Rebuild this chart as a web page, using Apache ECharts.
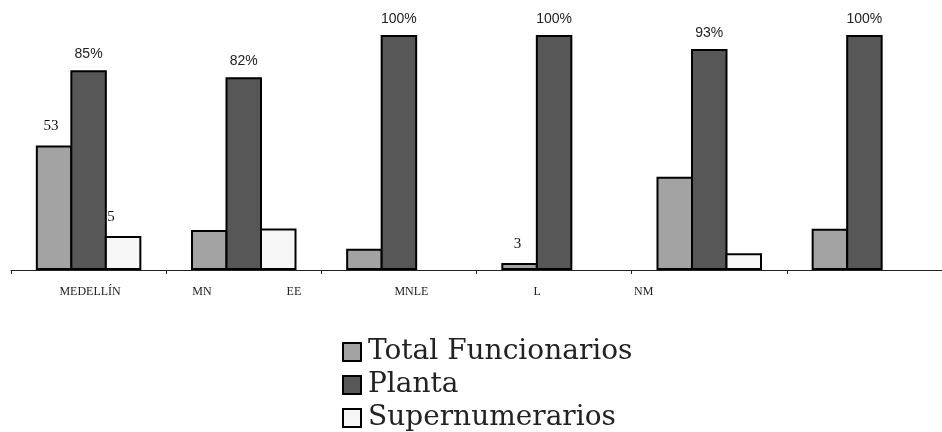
<!DOCTYPE html>
<html>
<head>
<meta charset="utf-8">
<script src="https://cdn.jsdelivr.net/npm/echarts@6/dist/echarts.min.js"></script>
<style>
  html, body { margin: 0; padding: 0; background: #fff; }
  #chart { width: 942px; height: 432px; }
</style>
</head>
<body>
<div id="chart"></div>
<script>
// ---- data ----
const categories = ['MEDELLÍN', 'MN EE', 'MNLE', 'L', 'NM', ''];
const seriesNames = ['Total Funcionarios', 'Planta', 'Supernumerarios'];
const totalFuncionarios = [53, 17, 9, 3, 39.7, 17.6];
const planta = [85, 82, 100, 100, 94, 100];
const supernumerarios = [14.5, 17.7, null, null, 7.1, null];
const totalLabels = ['53', '', '', '3', '', ''];
const plantaLabels = ['85%', '82%', '100%', '100%', '93%', '100%'];
const superLabels = ['5', '', '', '', '', ''];

// ---- styles ----
const serifLabel = { fontFamily: 'Liberation Serif', fontSize: 15, color: '#111', position: 'top', distance: 11.5 };
const sansLabel = { fontFamily: 'Liberation Sans', fontSize: 14, color: '#222', position: 'top', distance: 9 };
const labelOffsetX = { total: { 0: -3, 3: -2 }, super: { 0: -12 } };

function buildData(values, labels, style, offsets) {
  return values.map((v, i) => {
    if (v == null) return '-';
    const item = { value: v };
    if (labels[i]) {
      item.label = Object.assign({ show: true, formatter: labels[i], offset: [offsets[i] || 0, 0] }, style);
    }
    return item;
  });
}

const axisFont = { fontFamily: 'Liberation Serif', fontSize: 12, color: '#222' };
const axisRich = {
  c0: Object.assign({ padding: [0, 0, 0, 3] }, axisFont),
  c1a: Object.assign({ padding: [0, 0, 0, 6] }, axisFont),
  c1b: Object.assign({ padding: [0, 0, 0, 75] }, axisFont),
  c2: Object.assign({ padding: [0, 0, 0, 25] }, axisFont),
  c3: Object.assign({ padding: [0, 34, 0, 0] }, axisFont),
  c4: Object.assign({ padding: [0, 131, 0, 0] }, axisFont),
  c5: Object.assign({}, axisFont)
};

const barCommon = { type: 'bar', barGap: '-5.45%', barCategoryGap: '32%' };

const chart = echarts.init(document.getElementById('chart'), null, { renderer: 'canvas' });
chart.setOption({
  animation: false,
  backgroundColor: '#fff',
  grid: { left: 11, top: 35, width: 935, height: 235, containLabel: false },
  xAxis: {
    type: 'category',
    data: categories,
    axisLine: { lineStyle: { color: '#222', width: 1 } },
    axisTick: { show: true, length: 4, lineStyle: { color: '#222' } },
    axisLabel: {
      interval: 0,
      margin: 16,
      formatter: function (value, index) {
        if (!value) return '';
        const parts = value.split(' ');
        if (parts.length > 1) return '{c' + index + 'a|' + parts[0] + '}{c' + index + 'b|' + parts[1] + '}';
        return '{c' + index + '|' + value + '}';
      },
      rich: axisRich
    }
  },
  yAxis: {
    type: 'value', min: 0, max: 100,
    show: false, splitLine: { show: false }
  },
  legend: {
    orient: 'vertical',
    left: 342, top: 338,
    padding: 0,
    itemGap: 5,
    itemWidth: 18, itemHeight: 18,
    icon: 'rect',
    textStyle: { fontFamily: 'DejaVu Serif', fontSize: 28, color: '#222', padding: [0, 0, 0, 2] },
    data: seriesNames
  },
  series: [
    Object.assign({
      name: seriesNames[0],
      itemStyle: { color: '#a3a3a3', borderColor: '#000', borderWidth: 2 },
      data: buildData(totalFuncionarios, totalLabels, serifLabel, labelOffsetX.total)
    }, barCommon),
    Object.assign({
      name: seriesNames[1],
      itemStyle: { color: '#575757', borderColor: '#000', borderWidth: 2 },
      data: buildData(planta, plantaLabels, sansLabel, {})
    }, barCommon),
    Object.assign({
      name: seriesNames[2],
      itemStyle: { color: '#f7f7f7', borderColor: '#000', borderWidth: 2 },
      data: buildData(supernumerarios, superLabels, serifLabel, labelOffsetX.super)
    }, barCommon)
  ]
});
</script>
</body>
</html>
